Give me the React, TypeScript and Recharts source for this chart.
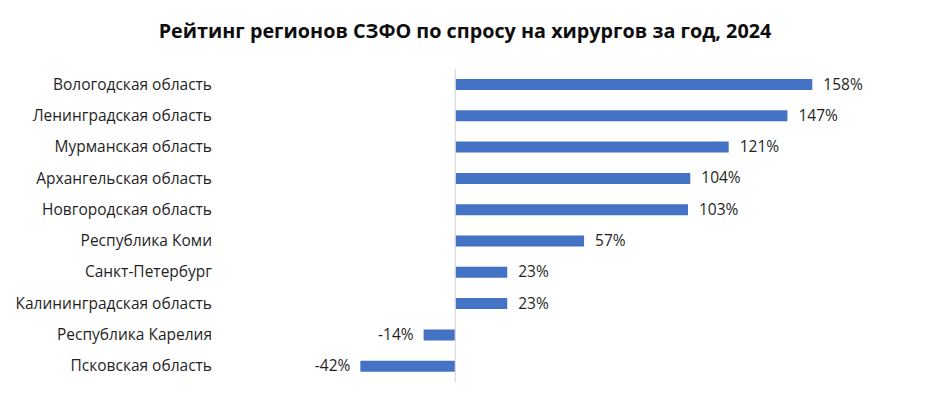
import { BarChart, Bar, XAxis, YAxis, ReferenceLine, LabelList } from "recharts";

const regions = [
  "Вологодская область",
  "Ленинградская область",
  "Мурманская область",
  "Архангельская область",
  "Новгородская область",
  "Республика Коми",
  "Санкт-Петербург",
  "Калининградская область",
  "Республика Карелия",
  "Псковская область",
];
const growth = [158, 147, 121, 104, 103, 57, 23, 23, -14, -42];

const data = regions.map((region, i) => ({ region, value: growth[i] }));

const FONT = "'Open Sans', 'Noto Sans', sans-serif";

function RegionTick(props: any) {
  const { y, payload } = props;
  return (
    <text x={212} y={y} dy={5} textAnchor="end" fill="#1f1f1f" fontSize={15.5} fontFamily={FONT}>
      {payload.value}
    </text>
  );
}

function ValueLabel(props: any) {
  const { x, y, width, height, value } = props;
  const lo = Math.min(x, x + width);
  const hi = Math.max(x, x + width);
  const neg = value < 0;
  return (
    <text
      x={neg ? lo - 10 : hi + 11}
      y={y + height / 2}
      dy={5}
      textAnchor={neg ? "end" : "start"}
      fill="#1f1f1f"
      fontSize={15.5}
      fontFamily={FONT}
    >
      {value}%
    </text>
  );
}

export default function App() {
  return (
    <div style={{ position: "absolute", left: 0, top: 0, width: 930, height: 403, background: "#fff" }}>
      <div
        style={{
          position: "absolute",
          top: 17,
          left: 0,
          width: 930,
          textAlign: "center",
          fontFamily: FONT,
          fontWeight: 700,
          fontSize: 19.8,
          color: "#0d0d0d",
        }}
      >
        Рейтинг регионов СЗФО по спросу на хирургов за год, 2024
      </div>
      <BarChart
        width={930}
        height={403}
        data={data}
        layout="vertical"
        margin={{ top: 69, right: 68, bottom: 21, left: 0 }}
        barSize={11}
      >
        <XAxis type="number" domain={[-105, 180]} hide />
        <YAxis
          type="category"
          dataKey="region"
          width={218}
          axisLine={false}
          tickLine={false}
          tick={<RegionTick />}
          interval={0}
        />
        <ReferenceLine x={0} stroke="#d9d9d9" strokeWidth={1.2} />
        <Bar dataKey="value" fill="#4472c4" isAnimationActive={false}>
          <LabelList dataKey="value" content={<ValueLabel />} />
        </Bar>
      </BarChart>
    </div>
  );
}
